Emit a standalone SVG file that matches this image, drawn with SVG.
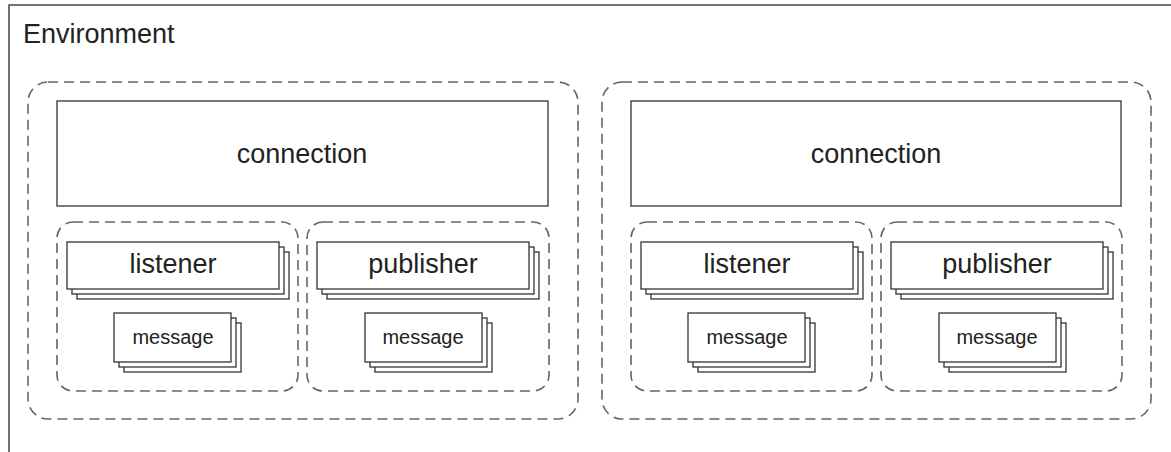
<svg xmlns="http://www.w3.org/2000/svg" width="1171" height="452" viewBox="0 0 1171 452">
<style>
.frame{fill:#fff;stroke:#444;stroke-width:1.5}
.dash{fill:none;stroke:#666;stroke-width:1.6;stroke-dasharray:10 6}
.box{fill:#fff;stroke:#333;stroke-width:1.3}
.t{font-family:"Liberation Sans",Arial,sans-serif;fill:#222;text-anchor:middle}
.big{font-size:27px}
.small{font-size:20px}
</style>
<defs>
<g id="listenerStack">
<rect class="box" x="10" y="10" width="212" height="47"/>
<rect class="box" x="5" y="5" width="212" height="47"/>
<rect class="box" x="0" y="0" width="212" height="47"/>
</g>
<g id="msgStack">
<rect class="box" x="10" y="10" width="117" height="49"/>
<rect class="box" x="5" y="5" width="117" height="49"/>
<rect class="box" x="0" y="0" width="117" height="49"/>
</g>
</defs>
<rect class="frame" x="9" y="5" width="1170" height="460"/>
<text class="t" x="23" y="43" style="font-size:27px;text-anchor:start">Environment</text>

<g id="env-left">
<rect class="dash" x="28" y="82" width="550" height="337" rx="20"/>
<g id="connection-left"><rect class="box" x="57" y="101" width="491" height="105"/><text class="t big" x="302" y="163">connection</text></g>
<g id="listener-group-left">
<rect class="dash" x="57" y="222" width="241" height="169" rx="16"/>
<g id="listener-left"><use href="#listenerStack" x="67" y="242"/><text class="t big" x="173" y="273">listener</text></g>
<g id="message-l1"><use href="#msgStack" x="114" y="313"/><text class="t small" x="173" y="344">message</text></g>
</g>
<g id="publisher-group-left">
<rect class="dash" x="307" y="222" width="242" height="169" rx="16"/>
<g id="publisher-left"><use href="#listenerStack" x="317" y="242"/><text class="t big" x="423" y="273">publisher</text></g>
<g id="message-l2"><use href="#msgStack" x="365" y="313"/><text class="t small" x="423" y="344">message</text></g>
</g>
</g>

<g id="env-right" transform="translate(574,0)">
<rect class="dash" x="28" y="82" width="549" height="337" rx="20"/>
<g id="connection-right"><rect class="box" x="57" y="101" width="490" height="105"/><text class="t big" x="302" y="163">connection</text></g>
<g id="listener-group-right">
<rect class="dash" x="57" y="222" width="241" height="169" rx="16"/>
<g id="listener-right"><use href="#listenerStack" x="67" y="242"/><text class="t big" x="173" y="273">listener</text></g>
<g id="message-r1"><use href="#msgStack" x="114" y="313"/><text class="t small" x="173" y="344">message</text></g>
</g>
<g id="publisher-group-right">
<rect class="dash" x="307" y="222" width="241" height="169" rx="16"/>
<g id="publisher-right"><use href="#listenerStack" x="317" y="242"/><text class="t big" x="423" y="273">publisher</text></g>
<g id="message-r2"><use href="#msgStack" x="365" y="313"/><text class="t small" x="423" y="344">message</text></g>
</g>
</g>
<g id="connectors"/>
</svg>
